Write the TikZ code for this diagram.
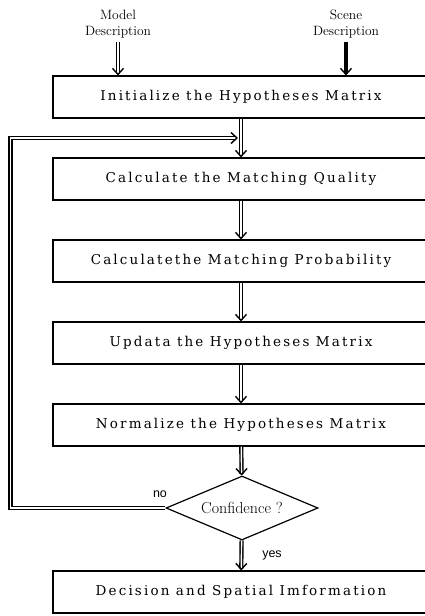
\documentclass[tikz,border=0pt]{standalone}
\usepackage{fontspec}
\newfontfamily\labelsans{Liberation Sans}
\newfontfamily\boxfont[LetterSpace=16]{DejaVu Serif}
\usetikzlibrary{shapes.geometric,arrows.meta,positioning}

\tikzset{
  stepbox/.style={draw, line width=1.2pt, minimum width=376pt, minimum height=42pt, inner sep=0pt,
    font=\boxfont\fontsize{13.5}{15}\selectfont},
  decision/.style={draw, diamond, line width=1.2pt, aspect=2.4, minimum width=152pt, minimum height=64pt,
    inner sep=0pt, font=\fontsize{16}{18}\selectfont},
  inlabel/.style={align=center, font=\fontsize{13.5}{16}\selectfont},
  answer/.style={font=\labelsans\fontsize{12.5}{14}\selectfont},
  flow/.style={double, line width=1.4pt, double distance=1.4pt, -{Straight Barb[length=6pt,width=11pt]}},
}

\begin{document}
\begin{tikzpicture}[x=1pt, y=-1pt]
  \useasboundingbox (0,0) rectangle (425,616);
  \clip (0,0) rectangle (425,616);

  % inputs
  \node[inlabel] (model) at (118,24) {Model\\Description};
  \node[inlabel] (scene) at (346,24) {Scene\\Description};

  % process boxes
  \foreach \t [count=\i] in {
      Initialize the Hypotheses Matrix,
      Calculate the Matching Quality,
      Calculatethe Matching Probability,
      Updata the Hypotheses Matrix,
      Normalize the Hypotheses Matrix} {
    \node[stepbox] (s\i) at (241, 15+82*\i) {\t};
  }
  \node[decision] (conf) at (242,508) {Confidence ?};
  \node[stepbox] (dec) at (241,592) {Decision and Spatial Imformation};

  % arrows
  \draw[flow] (model.south) -- (model.south |- s1.north);
  \draw[flow, double=black] (scene.south) -- (scene.south |- s1.north);
  \foreach \i [count=\j from 2] in {1,...,4} {
    \draw[flow] (s\i) -- (s\j);
  }
  \draw[flow] (s5) -- (conf);
  \draw[flow] (conf) -- (dec);

  % feedback loop
  \path (s1.south) -- coordinate[pos=0.5] (join) (s2.north);
  \draw[flow] (conf.west) -- ++(-155,0) |- ([xshift=-3pt]join);

  \node[answer] (no) at (160,494) {no};
  \node[answer] (yes) at (272,555) {yes};
\end{tikzpicture}
\end{document}
